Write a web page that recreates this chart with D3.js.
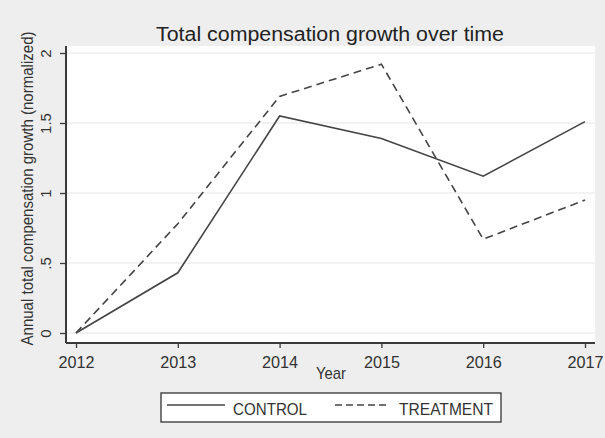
<!DOCTYPE html>
<html><head><meta charset="utf-8">
<script src="https://cdn.jsdelivr.net/npm/d3@7"></script>
<style>html,body{margin:0;padding:0;background:#eeeeee;}svg{display:block;font-family:Arial,"Liberation Sans",sans-serif;}</style>
</head><body>
<script>
const years = [2012, 2013, 2014, 2015, 2016, 2017];
const control = [0, 0.43, 1.55, 1.39, 1.12, 1.51];
const treatment = [0, 0.78, 1.69, 1.92, 0.67, 0.95];
const yTicks = [0, 0.5, 1, 1.5, 2];
const yTickLabels = ["0", ".5", "1", "1.5", "2"];
const seriesNames = ["CONTROL", "TREATMENT"];
const title = "Total compensation growth over time";
const xTitle = "Year";
const yTitle = "Annual total compensation growth (normalized)";

const W = 605, H = 438;
const FONT = "Arial, 'Liberation Sans', sans-serif";
const svg = d3.select("body").append("svg").attr("width", W).attr("height", H);
svg.append("rect").attr("width", W).attr("height", H).attr("fill", "#eeeeee");

const plot = {l: 66, r: 595, t: 46, b: 343};
const x = d3.scaleLinear().domain([2012, 2017]).range([76, 585]);
const y = d3.scaleLinear().domain([0, 2]).range([333, 53]);

svg.append("rect").attr("x", plot.l).attr("y", plot.t)
  .attr("width", plot.r - plot.l).attr("height", plot.b - plot.t).attr("fill", "#ffffff");

// gridlines
svg.append("g").selectAll("line").data(yTicks).join("line")
  .attr("x1", plot.l).attr("x2", plot.r)
  .attr("y1", d => y(d)).attr("y2", d => y(d))
  .attr("stroke", "#e6e6e6").attr("stroke-width", 1.2);

const axisColor = "#3a3a3a";
// y axis
const yAxis = d3.axisLeft(y).tickValues(yTicks).tickFormat((d, i) => yTickLabels[i]).tickSize(6).tickPadding(4);
const gy = svg.append("g").attr("transform", `translate(${plot.l},0)`).call(yAxis);
gy.select(".domain").attr("d", `M0,${plot.t}V${plot.b}`).attr("stroke", axisColor).attr("stroke-width", 2);
gy.selectAll(".tick line").attr("stroke", axisColor).attr("stroke-width", 1.3);
gy.selectAll(".tick text")
  .attr("transform", "rotate(-90)")
  .attr("x", 0).attr("y", -15).attr("dy", 0)
  .attr("text-anchor", "middle")
  .attr("font-size", 15).attr("fill", "#333").attr("font-family", FONT);

// x axis
const xAxis = d3.axisBottom(x).tickValues(years).tickFormat(d3.format("d")).tickSize(5).tickPadding(5);
const gx = svg.append("g").attr("transform", `translate(0,${plot.b})`).call(xAxis);
gx.select(".domain").attr("d", `M${plot.l},0H${plot.r}`).attr("stroke", axisColor).attr("stroke-width", 2);
gx.selectAll(".tick line").attr("stroke", axisColor).attr("stroke-width", 1.3);
gx.selectAll(".tick text").attr("font-size", 17).attr("fill", "#333")
  .attr("font-family", FONT).attr("y", 25).attr("dy", 0)
  .attr("textLength", 36).attr("lengthAdjust", "spacingAndGlyphs");

// lines
const line = d3.line().x((d, i) => x(years[i])).y(d => y(d));
svg.append("path").datum(control).attr("d", line).attr("fill", "none")
  .attr("stroke", "#444").attr("stroke-width", 1.6);
svg.append("path").datum(treatment).attr("d", line).attr("fill", "none")
  .attr("stroke", "#444").attr("stroke-width", 1.6).attr("stroke-dasharray", "8,5");

// titles
svg.append("text").attr("x", 330).attr("y", 41).attr("text-anchor", "middle")
  .attr("font-size", 20).attr("fill", "#222")
  .attr("textLength", 348).attr("lengthAdjust", "spacingAndGlyphs").text(title);
svg.append("text").attr("x", 331).attr("y", 379).attr("text-anchor", "middle")
  .attr("font-size", 17).attr("fill", "#333")
  .attr("textLength", 30).attr("lengthAdjust", "spacingAndGlyphs").text(xTitle);
svg.append("text").attr("transform", `translate(33,${(plot.t + plot.b) / 2 - 6}) rotate(-90)`)
  .attr("text-anchor", "middle").attr("font-size", 16).attr("fill", "#333")
  .attr("textLength", 314).attr("lengthAdjust", "spacingAndGlyphs").text(yTitle);

// legend
const lg = svg.append("g");
lg.append("rect").attr("x", 161).attr("y", 393).attr("width", 340).attr("height", 29)
  .attr("fill", "#ffffff").attr("stroke", "#333").attr("stroke-width", 1.3);
const items = [
  {name: seriesNames[0], x1: 167, x2: 225, tx: 233, tl: 74, dash: null},
  {name: seriesNames[1], x1: 335, x2: 390, tx: 399, tl: 94, dash: "7,4"}
];
items.forEach(it => {
  lg.append("line").attr("x1", it.x1).attr("x2", it.x2).attr("y1", 405).attr("y2", 405)
    .attr("stroke", "#444").attr("stroke-width", 1.6).attr("stroke-dasharray", it.dash);
  lg.append("text").attr("x", it.tx).attr("y", 415).attr("font-size", 16.5).attr("fill", "#333")
    .attr("textLength", it.tl).attr("lengthAdjust", "spacingAndGlyphs").text(it.name);
});
</script>
</body></html>
